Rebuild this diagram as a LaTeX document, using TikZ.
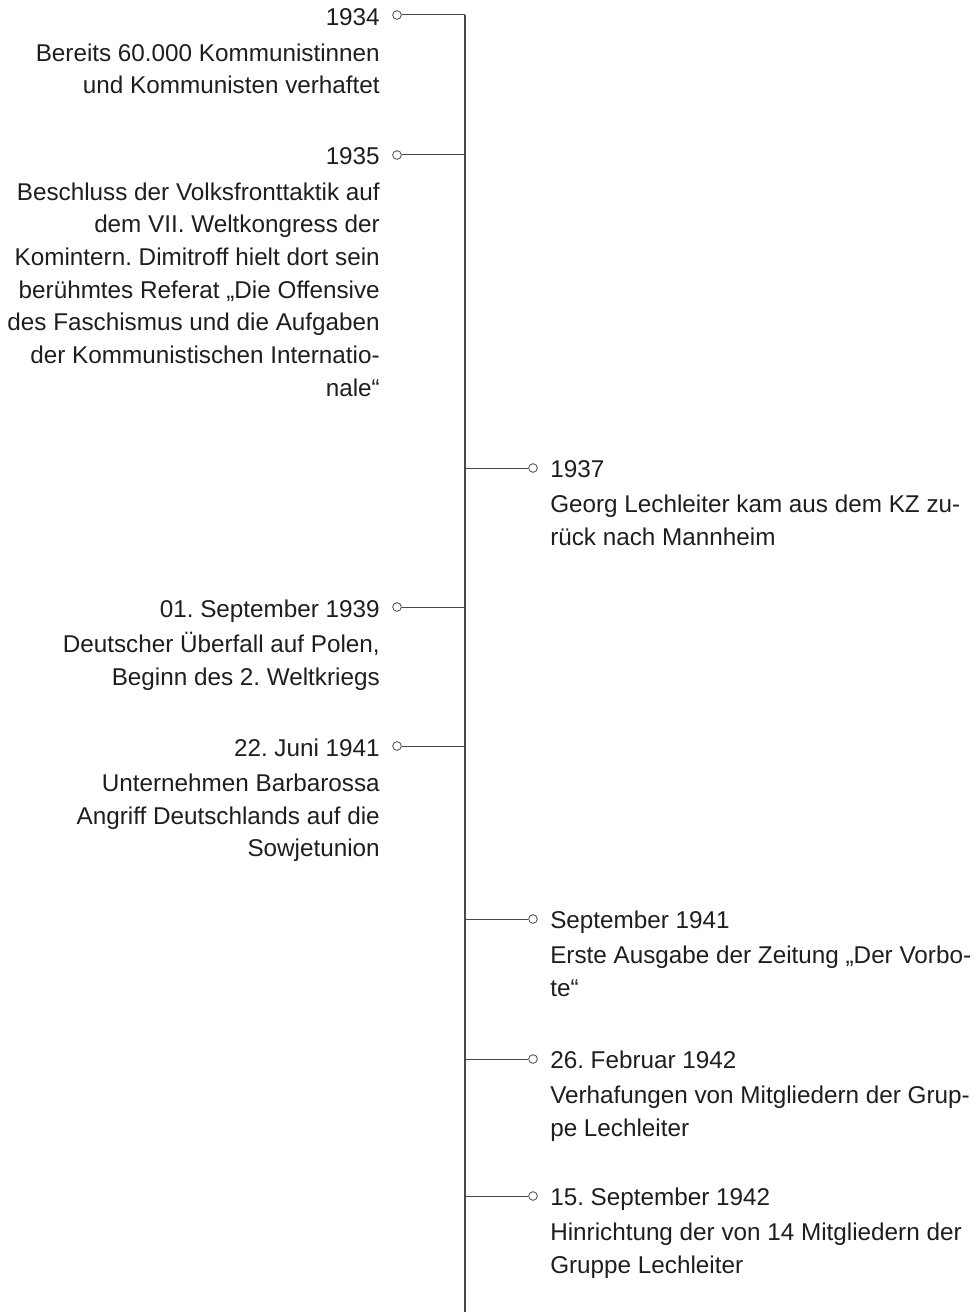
\documentclass[tikz,border=0pt]{standalone}
\usepackage{fontspec}
\setmainfont{Liberation Sans}
\definecolor{txt}{HTML}{1E1E1E}
\definecolor{ln}{HTML}{484848}
\newcommand\evL[2]{\begin{tabular}[t]{@{}r@{}}#1\\[2pt]#2\end{tabular}}
\newcommand\evR[2]{\begin{tabular}[t]{@{}l@{}}#1\\[2pt]#2\end{tabular}}
\begin{document}
\frenchspacing
\begin{tikzpicture}[x=0.75pt,y=-0.75pt,
  lab/.style={inner sep=0pt, text=txt, font=\fontsize{18.2}{24.5}\selectfont\frenchspacing},
  labL/.style={lab, anchor=base east},
  labR/.style={lab, anchor=base west},
  dot/.style={circle, draw=ln, fill=white, line width=0.6pt, inner sep=0pt, minimum size=6.5pt},
  hline/.style={draw=ln, line width=0.75pt},
  spine/.style={draw=ln, line width=1pt}]
\useasboundingbox (0,0) rectangle (978,1312);
% spine
\coordinate (top) at (465,15);
\coordinate (bot) at (465,1312);
\draw[spine] (top) -- (bot);
% left events
\foreach \n/\y in {a/15,b/155,d/607,e/746}{
  \coordinate (s\n) at (465,\y);
  \node[dot] (c\n) at (397,\y) {};
  \draw[hline] (c\n) -- (s\n);
}
% right events
\foreach \n/\y in {c/468,f/919,g/1059,h/1196}{
  \coordinate (s\n) at (465,\y);
  \node[dot] (c\n) at (533,\y) {};
  \draw[hline] (s\n) -- (c\n);
}
\node[labL] (ta) at (380,26) {\evL{1934}{Bereits 60.000 Kommunistinnen\\und Kommunisten verhaftet}};
\node[labL] (tb) at (380,165) {\evL{1935}{Beschluss der Volksfronttaktik auf\\dem VII. Weltkongress der\\Komintern. Dimitroff hielt dort sein\\berühmtes Referat „Die Offensive\\des Faschismus und die Aufgaben\\der Kommunistischen Internatio-\\nale“}};
\node[labR] (tc) at (550,477.5) {\evR{1937}{Georg Lechleiter kam aus dem KZ zu-\\rück nach Mannheim}};
\node[labL] (td) at (380,617) {\evL{01. September 1939}{Deutscher Überfall auf Polen,\\Beginn des 2. Weltkriegs}};
\node[labL] (te) at (380,756) {\evL{22. Juni 1941}{Unternehmen Barbarossa\\Angriff Deutschlands auf die\\Sowjetunion}};
\node[labR] (tf) at (550,928.5) {\evR{September 1941}{Erste Ausgabe der Zeitung „Der Vorbo-\\te“}};
\node[labR] (tg) at (550,1068.5) {\evR{26. Februar 1942}{Verhafungen von Mitgliedern der Grup-\\pe Lechleiter}};
\node[labR] (th) at (550,1205.5) {\evR{15. September 1942}{Hinrichtung der von 14 Mitgliedern der\\Gruppe Lechleiter}};
\end{tikzpicture}
\end{document}
